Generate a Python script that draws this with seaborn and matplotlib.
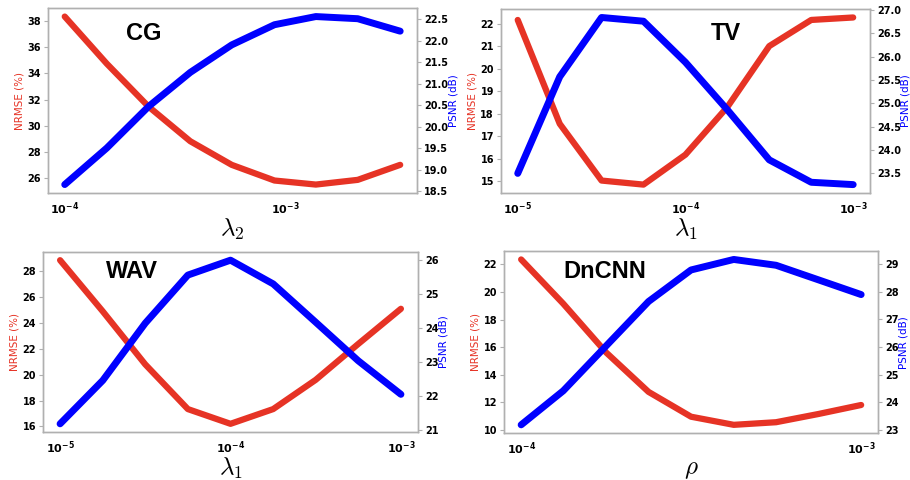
import numpy as np
import matplotlib
matplotlib.use('Agg')
import matplotlib.pyplot as plt
import seaborn as sns
from matplotlib.ticker import FuncFormatter, NullFormatter, MultipleLocator

# values
cg_x = [1.0e-4, 1.55e-4, 2.4e-4, 3.7e-4, 5.7e-4, 8.9e-4, 1.37e-3, 2.12e-3, 3.3e-3]
cg_nrmse = [38.36, 34.75, 31.45, 28.81, 27.0, 25.8, 25.49, 25.85, 27.0]
cg_psnr = [18.65, 19.5, 20.47, 21.26, 21.9, 22.37, 22.56, 22.51, 22.22]

tv_x = [1e-5, 1.78e-5, 3.16e-5, 5.62e-5, 1e-4, 1.78e-4, 3.16e-4, 5.62e-4, 1e-3]
tv_nrmse = [22.16, 17.55, 15.03, 14.85, 16.18, 18.3, 21.0, 22.16, 22.27]
tv_psnr = [23.5, 25.57, 26.84, 26.76, 25.88, 24.86, 23.79, 23.31, 23.26]

wav_x = [1e-5, 1.78e-5, 3.16e-5, 5.62e-5, 1e-4, 1.78e-4, 3.16e-4, 5.62e-4, 1e-3]
wav_nrmse = [28.86, 24.9, 20.8, 17.34, 16.2, 17.34, 19.6, 22.38, 25.1]
wav_psnr = [21.17, 22.45, 24.14, 25.56, 26.0, 25.3, 24.17, 23.03, 22.04]

dn_x = [1e-4, 1.33e-4, 1.78e-4, 2.37e-4, 3.16e-4, 4.22e-4, 5.62e-4, 7.5e-4, 1e-3]
dn_nrmse = [22.36, 19.15, 15.6, 12.75, 10.95, 10.36, 10.55, 11.15, 11.8]
dn_psnr = [23.19, 24.42, 26.05, 27.65, 28.79, 29.17, 28.96, 28.43, 27.9]

RED = '#e63325'
BLUE = '#0000ff'
GRAY = '#b0b0b0'


def log_label(v, pos):
    return r'$\mathbf{10^{%d}}$' % int(round(np.log10(v)))


def style_axis(ax):
    for s in ax.spines.values():
        s.set_color(GRAY)
        s.set_linewidth(1.0)
    ax.tick_params(which='both', colors=GRAY, labelcolor='black', labelsize=7, pad=2)
    ax.tick_params(axis='x', labelsize=8)
    ax.tick_params(which='major', length=3)
    ax.tick_params(which='minor', length=2)


def draw_panel(rect, x, nrmse, psnr, steps, name, name_pos, xlabel):
    ax = fig.add_axes(rect)
    sns.lineplot(x=x, y=nrmse, ax=ax, color=RED, linewidth=4.5)
    ax.set_xscale('log')
    ax2 = ax.twinx()
    sns.lineplot(x=x, y=psnr, ax=ax2, color=BLUE, linewidth=5)

    ax.xaxis.set_major_formatter(FuncFormatter(log_label))
    ax.xaxis.set_minor_formatter(NullFormatter())
    ax.yaxis.set_major_locator(MultipleLocator(steps[0]))
    ax2.yaxis.set_major_locator(MultipleLocator(steps[1]))
    ax.set_ylabel('NRMSE (%)', color=RED, fontsize=7.5, labelpad=2)
    ax2.set_ylabel('PSNR (dB)', color=BLUE, fontsize=7.5, labelpad=0)
    ax.set_xlabel(xlabel, fontsize=18, math_fontfamily='cm', labelpad=0,
                  color='black')

    style_axis(ax)
    style_axis(ax2)
    for lbl in ax.get_yticklabels() + ax2.get_yticklabels():
        lbl.set_fontweight('bold')

    ax.text(name_pos[0], name_pos[1], name, transform=ax.transAxes,
            fontsize=17, fontweight='bold', family='Liberation Sans',
            color='black', ha='center', va='center')
    return ax, ax2


sns.set_style('white')
plt.rcParams['font.family'] = ['DejaVu Sans']

fig = plt.figure(figsize=(9.1, 4.8), dpi=100)

draw_panel([0.0527, 0.598, 0.4055, 0.385], cg_x, cg_nrmse, cg_psnr, (2, 0.5),
           'CG', (0.26, 0.865), r'$\lambda_2$')
draw_panel([0.5505, 0.598, 0.4055, 0.383], tv_x, tv_nrmse, tv_psnr, (1, 0.5),
           'TV', (0.61, 0.865), r'$\lambda_1$')
draw_panel([0.0473, 0.100, 0.412, 0.375], wav_x, wav_nrmse, wav_psnr, (2, 1),
           'WAV', (0.237, 0.89), r'$\lambda_1$')
draw_panel([0.554, 0.0977, 0.411, 0.379], dn_x, dn_nrmse, dn_psnr, (2, 1),
           'DnCNN', (0.27, 0.886), r'$\rho$')

fig.savefig('out.png', dpi=100, facecolor='white')
